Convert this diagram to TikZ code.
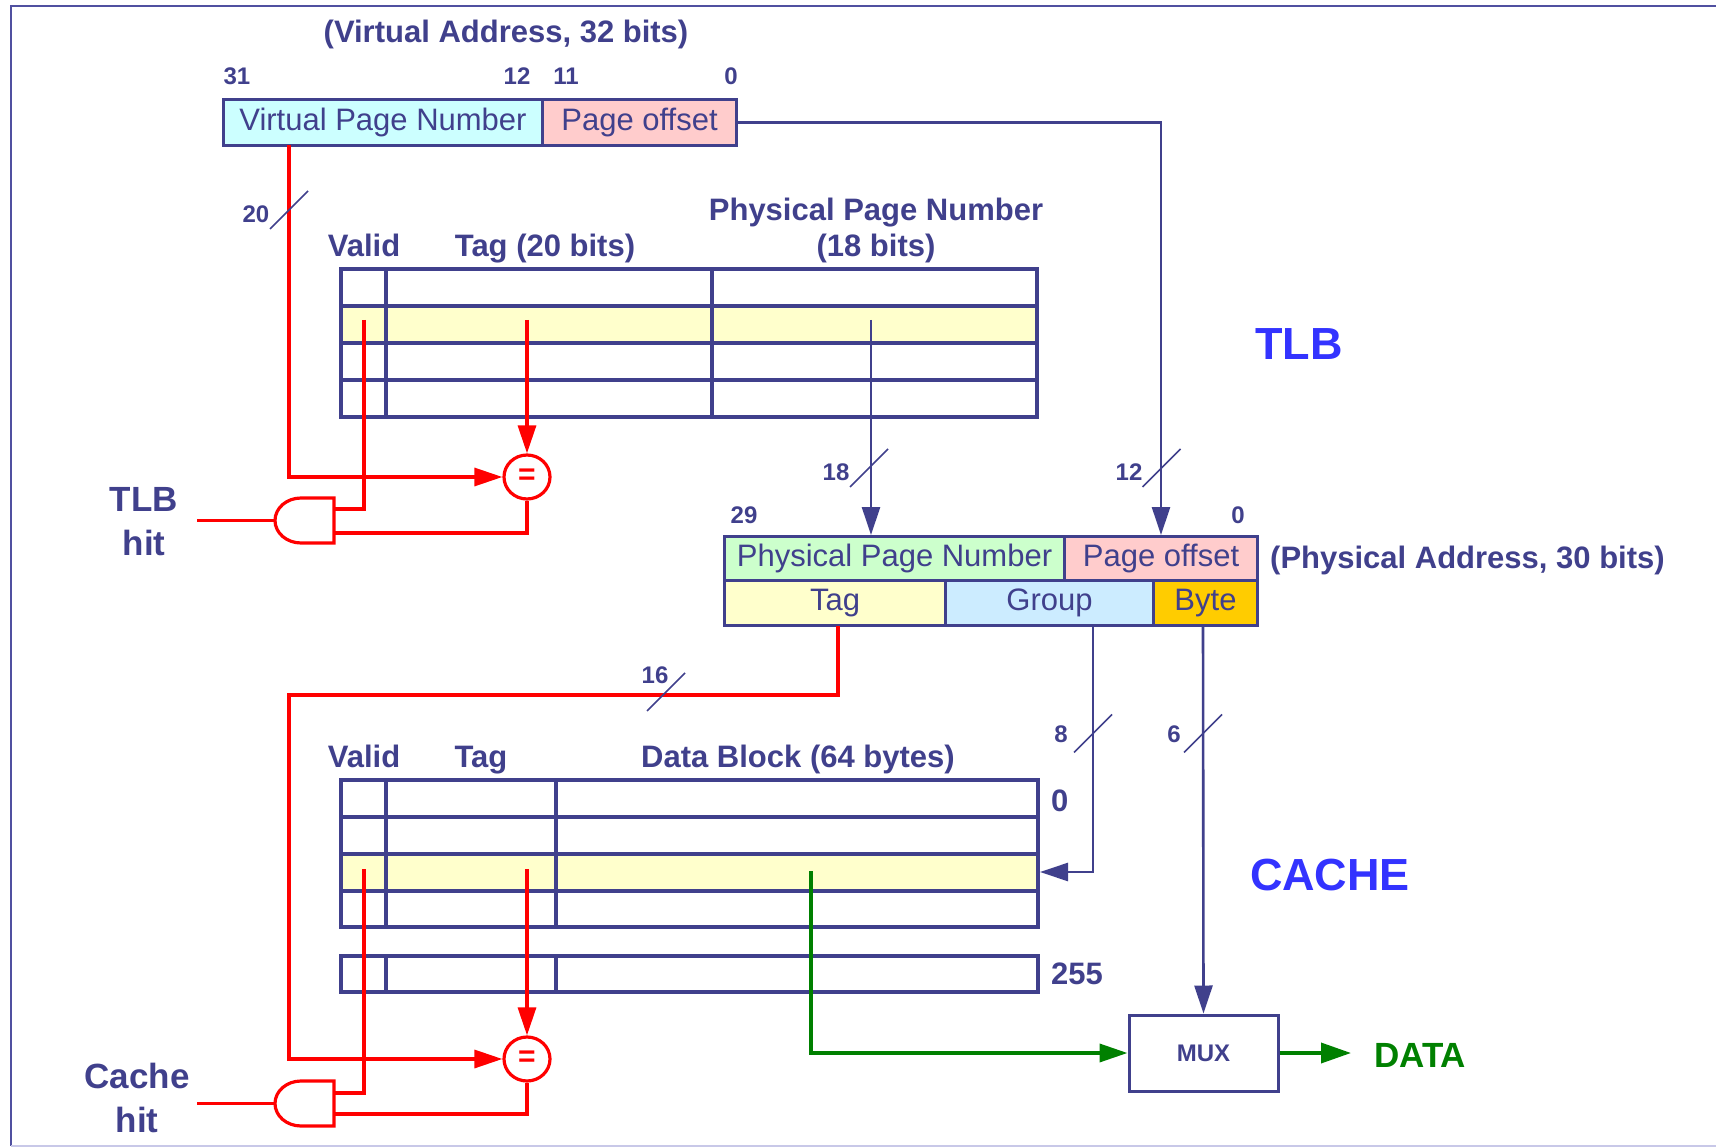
\documentclass[tikz,border=0pt]{standalone}
\usepackage{fontspec}
\setmainfont{Liberation Sans}
\usetikzlibrary{arrows.meta,calc,shapes.geometric}
\definecolor{dblue}{RGB}{64,64,140}
\definecolor{bblue}{RGB}{51,51,255}
\definecolor{dgreen}{RGB}{0,128,0}
\definecolor{framec}{RGB}{80,80,160}
\definecolor{framel}{RGB}{200,200,232}
\definecolor{cvpn}{RGB}{204,255,255}
\definecolor{cpo}{RGB}{255,204,204}
\definecolor{cppn}{RGB}{204,255,204}
\definecolor{ctag}{RGB}{255,255,204}
\definecolor{cgrp}{RGB}{204,236,255}
\definecolor{cbyte}{RGB}{255,204,0}
\begin{document}
\begin{tikzpicture}[x=1pt,y=-1pt,
  lbl/.style={text=dblue,font=\fontsize{31}{36}\selectfont\bfseries,inner sep=0pt,anchor=base},
  num/.style={text=dblue,font=\fontsize{24}{28}\selectfont\bfseries,inner sep=0pt,anchor=base},
  fld/.style={draw=dblue,line width=3pt,text=dblue,font=\fontsize{31}{36}\selectfont,inner sep=0pt,anchor=north west},
  tbl/.style={draw=dblue,line width=3.5pt},
  bus/.style={draw=dblue,line width=2.6pt},
  rwire/.style={draw=red,line width=3.2pt},
  gwire/.style={draw=dgreen,line width=3.6pt},
  tip/.style={-{Triangle[length=28pt,width=18pt]}},
  slash/.style={draw=dblue,line width=1.6pt},
  eqn/.style={ellipse,draw=red,line width=3.2pt,fill=white,minimum width=46pt,minimum height=44pt,inner sep=0pt,text=red,font=\fontsize{30}{30}\selectfont\bfseries},
  gate/.style={draw=red,line width=3.2pt,fill=white},
  big/.style={text=bblue,font=\fontsize{45}{50}\selectfont\bfseries,inner sep=0pt,anchor=base},
  hitl/.style={text=dblue,font=\fontsize{35}{40}\selectfont\bfseries,inner sep=0pt,anchor=base},
]
\useasboundingbox (0,0) rectangle (1716,1147);
% frame
\draw[framec,line width=2.5pt] (1716,6) -- (11,6) -- (11,1146);
\draw[framel,line width=2.5pt] (11,1146) -- (1716,1146);

% ---------- virtual address ----------
\node[lbl] (vatitle) at (506,43) {(Virtual Address, 32 bits)};
\node[num] (b31) at (237,85) {31};
\node[num] (b12) at (517,85) {12};
\node[num] (b11) at (566,85) {11};
\node[num] (b0v) at (731,85) {0};
\node[fld,fill=cvpn,minimum width=319pt,minimum height=46pt] (vpn) at (222,98) {Virtual Page Number};
\node[fld,fill=cpo,minimum width=194pt,minimum height=46pt] (vpo) at (541,98) {Page offset};

% ---------- TLB table ----------
\node[lbl] (tvalid) at (364,257) {Valid};
\node[lbl] (ttag) at (545,257) {Tag (20 bits)};
\node[lbl] (tppn1) at (876,221) {Physical Page Number};
\node[lbl] (tppn2) at (876,257) {(18 bits)};
\fill[ctag] (341,306) rectangle (1037,343);
\draw[tbl] (341,269) rectangle (1037,417);
\foreach \y in {306,343,380} \draw[tbl] (341,\y) -- (1037,\y);
\foreach \x in {386,712} \draw[tbl] (\x,269) -- (\x,417);
\node[big] (tlbname) at (1299,360) {TLB};

% ---------- physical address ----------
\node[num] (b29) at (744,523) {29};
\node[num] (b0p) at (1238,523) {0};
\node[fld,fill=cppn,minimum width=340pt,minimum height=44pt] (pppn) at (723,535) {Physical Page Number};
\node[fld,fill=cpo,minimum width=193pt,minimum height=44pt] (ppo) at (1063,535) {Page offset};
\node[fld,fill=ctag,minimum width=221pt,minimum height=45pt] (ptag) at (723,579) {Tag};
\node[fld,fill=cgrp,minimum width=208pt,minimum height=45pt] (pgrp) at (944,579) {Group};
\node[fld,fill=cbyte,minimum width=104pt,minimum height=45pt] (pbyte) at (1152,579) {Byte};
\node[lbl,anchor=base west] (patitle) at (1270,568) {(Physical Address, 30 bits)};

% ---------- cache table ----------
\node[lbl] (cvalid) at (364,767) {Valid};
\node[lbl] (ctagl) at (481,767) {Tag};
\node[lbl] (cdata) at (798,767) {Data Block (64 bytes)};
\fill[ctag] (341,854) rectangle (1038,891);
\draw[tbl] (341,780) rectangle (1038,927);
\foreach \y in {817,854,891} \draw[tbl] (341,\y) -- (1038,\y);
\foreach \x in {386,556} \draw[tbl] (\x,780) -- (\x,927);
\draw[tbl] (341,956) rectangle (1038,992);
\foreach \x in {386,556} \draw[tbl] (\x,956) -- (\x,992);
\node[lbl,anchor=base west] (c0) at (1051,811) {0};
\node[lbl,anchor=base west] (c255) at (1051,984) {255};
\node[big] (cachename) at (1330,890) {CACHE};

% ---------- comparators and gates ----------
\node[eqn] (eq1) at (527,477) {=};
\node[eqn] (eq2) at (527,1059) {=};
\draw[gate] (334,498) -- (301,498) arc[start angle=90,end angle=270,x radius=26pt,y radius=22.5pt] -- (334,543) -- cycle;
\draw[gate] (334,1081) -- (301,1081) arc[start angle=90,end angle=270,x radius=26pt,y radius=22.5pt] -- (334,1126) -- cycle;
\coordinate (a1v) at (334,509);
\coordinate (a1e) at (334,533);
\coordinate (a1o) at (275,520.5);
\coordinate (a2v) at (334,1093);
\coordinate (a2e) at (334,1114);
\coordinate (a2o) at (275,1103.5);
\coordinate (tlbhit) at (197,520.5);
\coordinate (cachehit) at (197,1103.5);
\node[hitl] (tlbhit1) at (144,511) {TLB};
\node[hitl] (tlbhit2) at (144,555) {hit};
\node[hitl] (chit1) at (137,1088) {Cache};
\node[hitl] (chit2) at (137,1132) {hit};

% ---------- MUX ----------
\node[draw=dblue,line width=3pt,minimum width=149pt,minimum height=76pt,inner sep=0pt,text=dblue,font=\fontsize{24}{28}\selectfont\bfseries] (mux) at (1203.5,1053) {MUX};
\node[anchor=base west,inner sep=0pt,text=dgreen,font=\fontsize{35}{40}\selectfont\bfseries] (data) at (1374,1067) {DATA};
\coordinate (dataend) at (1351,1053);

% ---------- wire points ----------
\coordinate (vr) at (289,145);
\coordinate (tv) at (364,320);
\coordinate (tt) at (527,320);
\coordinate (tp) at (871,320);
\coordinate (cv) at (364,869);
\coordinate (ct) at (527,869);
\coordinate (cd) at (811,871);
\coordinate (ptr) at (838,626);
\coordinate (pgr) at (1093,626);
\coordinate (pbr) at (1203,626);
\coordinate (crow) at (1040,872);

% blue wires
\draw[bus,tip] (vpo.east) -| (ppo.north);
\draw[bus,tip] (tp) -- (tp |- pppn.north);
\draw[bus,tip] (pgr) -- (1093,872) -- (crow);
\draw[bus,tip] (pbr) -- (mux.north);
% red wires
\draw[rwire,tip] (vr) |- (eq1.west);
\draw[rwire,tip] (tt) -- (eq1.north);
\draw[rwire] (tv) |- (a1v);
\draw[rwire] (eq1.south) |- (a1e);
\draw[rwire] (a1o) -- (tlbhit);
\draw[rwire,tip] (ptr) -- (838,695) -- (289,695) |- (eq2.west);
\draw[rwire,tip] (ct) -- (eq2.north);
\draw[rwire] (cv) |- (a2v);
\draw[rwire] (eq2.south) |- (a2e);
\draw[rwire] (a2o) -- (cachehit);
% green wires
\draw[gwire,-{Triangle[length=28pt,width=18pt]}] (cd) |- (mux.west);
\draw[gwire,-{Triangle[length=30pt,width=20pt]}] (mux.east) -- (dataend);

% bus width marks
\foreach \c in {{289,210}, {869,468}, {1161.5,468}, {1093,733.5}, {1203,733.5}}{
  \draw[slash] ($(\c)+(-19,19)$) -- ($(\c)+(19,-19)$);
}
\draw[slash] (647,711) -- (685,673);
\node[num] (w20) at (256,223) {20};
\node[num] (w18) at (836,480) {18};
\node[num] (w12) at (1129,480) {12};
\node[num] (w16) at (655,683) {16};
\node[num] (w8) at (1061,742) {8};
\node[num] (w6) at (1174,742) {6};
\end{tikzpicture}
\end{document}
